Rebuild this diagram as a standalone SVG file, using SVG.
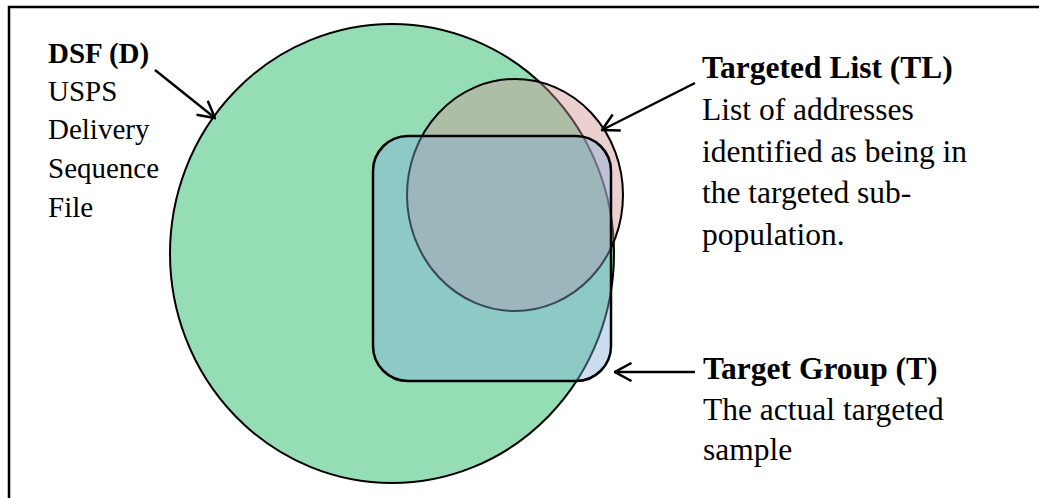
<svg xmlns="http://www.w3.org/2000/svg" width="1039" height="498" viewBox="0 0 1039 498">
  <style>
    .lbl { font-family: "Liberation Serif", "Times New Roman", serif; fill: #000; }
    .left { font-size: 29px; }
    .right { font-size: 31.5px; }
    .b { font-weight: bold; }
    .conn { stroke: #000; stroke-width: 2.5; fill: none; }
  </style>
  <defs>
    <marker id="open" viewBox="0 0 20 20" refX="18.5" refY="10" markerWidth="20" markerHeight="20" markerUnits="userSpaceOnUse" orient="auto">
      <path d="M2,1 L18.5,10 L2,19" fill="none" stroke="#000" stroke-width="2.5"/>
    </marker>
  </defs>
  <rect x="0" y="0" width="1039" height="498" fill="#fff"/>
  <rect id="frame" x="9" y="7" width="1100" height="600" fill="none" stroke="#000" stroke-width="2.5"/>

  <g id="dsf">
    <ellipse cx="392" cy="253.5" rx="222" ry="229.5" fill="#95DEB5" stroke="#000" stroke-width="2"/>
  </g>
  <g id="targeted-list">
    <ellipse cx="515" cy="195" rx="108" ry="116" fill="#D09191" fill-opacity="0.43" stroke="#000" stroke-width="2"/>
  </g>
  <g id="target-group">
    <rect x="373" y="136" width="238" height="245" rx="35" ry="35" fill="#84ADDB" fill-opacity="0.415" stroke="#000" stroke-width="2.5"/>
  </g>

  <g id="connectors">
    <line class="conn" x1="155" y1="70" x2="215" y2="118" marker-end="url(#open)"/>
    <line class="conn" x1="695" y1="83" x2="602" y2="130" marker-end="url(#open)"/>
    <line class="conn" x1="695" y1="372" x2="615" y2="372" marker-end="url(#open)"/>
  </g>

  <g id="label-dsf" class="lbl left">
    <text x="48" y="63" class="b">DSF (D)</text>
    <text x="48" y="101">USPS</text>
    <text x="48" y="139">Delivery</text>
    <text x="48" y="178">Sequence</text>
    <text x="48" y="217">File</text>
  </g>
  <g id="label-tl" class="lbl right">
    <text x="702" y="78" class="b">Targeted List (TL)</text>
    <text x="702" y="120">List of addresses</text>
    <text x="702" y="162">identified as being in</text>
    <text x="702" y="203">the targeted sub-</text>
    <text x="702" y="245">population.</text>
  </g>
  <g id="label-tg" class="lbl right">
    <text x="703" y="379" class="b">Target Group (T)</text>
    <text x="703" y="420">The actual targeted</text>
    <text x="703" y="460">sample</text>
  </g>
</svg>
